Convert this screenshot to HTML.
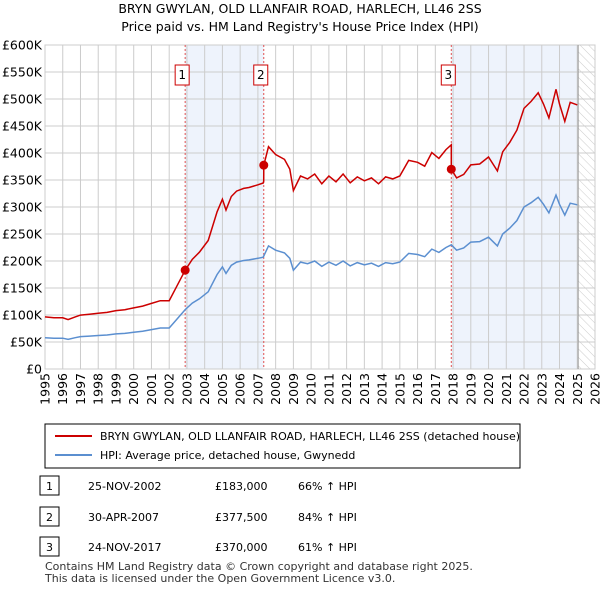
<!DOCTYPE html>
<html><head><meta charset="utf-8">
<style>
body{margin:0;background:#fff;font-family:"Liberation Sans",sans-serif;}
svg text{font-family:"DejaVu Sans","Liberation Sans",sans-serif;}
</style></head>
<body>
<svg id="c" width="600" height="590" xmlns="http://www.w3.org/2000/svg">
<defs>
<pattern id="hatch" width="6" height="6" patternUnits="userSpaceOnUse" patternTransform="rotate(-45)">
<line x1="0" y1="0" x2="0" y2="6" stroke="#ccc" stroke-width="1"/>
</pattern>
</defs>
<text x="300" y="13" text-anchor="middle" font-size="12.5">BRYN GWYLAN, OLD LLANFAIR ROAD, HARLECH, LL46 2SS</text>
<text x="300" y="31" text-anchor="middle" font-size="12.5">Price paid vs. HM Land Registry's House Price Index (HPI)</text>
<g id="plot"></g>
<rect x="45" y="424" width="475" height="44" fill="#fff" stroke="#000" stroke-width="1"/>
<line x1="55" y1="436" x2="92" y2="436" stroke="#cc0000" stroke-width="2"/>
<text x="100" y="440" font-size="11">BRYN GWYLAN, OLD LLANFAIR ROAD, HARLECH, LL46 2SS (detached house)</text>
<line x1="55" y1="455" x2="92" y2="455" stroke="#5b8fd0" stroke-width="2"/>
<text x="100" y="459" font-size="11">HPI: Average price, detached house, Gwynedd</text>
<g id="table" font-size="11"></g>
<text x="45" y="570" font-size="11" fill="#333">Contains HM Land Registry data © Crown copyright and database right 2025.</text>
<text x="45" y="582" font-size="11" fill="#333">This data is licensed under the Open Government Licence v3.0.</text>
</svg>
<script>
const hpiYears=[1995,1995.5,1996,1996.3,1996.7,1997,1997.5,1998,1998.5,1999,1999.5,2000,2000.5,2001,2001.5,2002,2002.4,2002.9,2003.3,2003.7,2004.2,2004.7,2005.0,2005.2,2005.5,2005.8,2006.2,2006.5,2007.0,2007.3,2007.6,2008.0,2008.5,2008.8,2009.0,2009.4,2009.8,2010.2,2010.6,2011.0,2011.4,2011.8,2012.2,2012.6,2013.0,2013.4,2013.8,2014.2,2014.6,2015.0,2015.5,2016.0,2016.4,2016.8,2017.2,2017.6,2017.9,2018.2,2018.6,2019.0,2019.5,2020.0,2020.5,2020.8,2021.2,2021.6,2022.0,2022.4,2022.8,2023.1,2023.4,2023.8,2024.0,2024.3,2024.6,2025.0];
const hpiValues=[58,57,57,55,58,60,61,62,63,65,66,68,70,73,76,76,91,110,122,130,143,175,189,177,192,198,201,202,205,207,228,220,215,205,183,198,195,200,190,198,192,200,191,197,193,196,190,197,195,198,214,212,208,222,216,225,230,220,224,235,236,244,228,250,261,275,300,308,318,305,289,322,305,285,307,304];
const saleYears=[2002.9,2007.33,2017.9];
const salePrices=[183000,377500,370000];
const saleDates=["25-NOV-2002","30-APR-2007","24-NOV-2017"];
const salePct=["66% ↑ HPI","84% ↑ HPI","61% ↑ HPI"];
const yTicks=[0,50,100,150,200,250,300,350,400,450,500,550,600];
const yLabels=["£0","£50K","£100K","£150K","£200K","£250K","£300K","£350K","£400K","£450K","£500K","£550K","£600K"];
const xTicks=[1995,1996,1997,1998,1999,2000,2001,2002,2003,2004,2005,2006,2007,2008,2009,2010,2011,2012,2013,2014,2015,2016,2017,2018,2019,2020,2021,2022,2023,2024,2025,2026];
const dataEnd=2025.05;

const NS="http://www.w3.org/2000/svg";
const X0=45,X1=595,Y0=369,Y1=45;
const xs=y=>X0+(y-1995)/(2026-1995)*(X1-X0);
const ys=v=>Y0-v/600*(Y0-Y1);
const plot=document.getElementById('plot');
function mk(tag,attrs,parent){const e=document.createElementNS(NS,tag);for(const k in attrs)e.setAttribute(k,attrs[k]);(parent||plot).appendChild(e);return e;}
function hpiAt(t){for(let i=0;i<hpiYears.length-1;i++){if(t<=hpiYears[i+1]){const f=(t-hpiYears[i])/(hpiYears[i+1]-hpiYears[i]);return hpiValues[i]+f*(hpiValues[i+1]-hpiValues[i]);}}return hpiValues[hpiValues.length-1];}
let r=mk('rect',{x:xs(saleYears[0]),y:Y1,width:xs(saleYears[1])-xs(saleYears[0]),height:Y0-Y1,fill:'#eef3fc'});


r=mk('rect',{x:xs(saleYears[2]),y:Y1,width:xs(dataEnd)-xs(saleYears[2]),height:Y0-Y1,fill:'#eef3fc'});


r=mk('rect',{x:xs(dataEnd),y:Y1,width:X1-xs(dataEnd),height:Y0-Y1,fill:'url(#hatch)'});


yTicks.forEach((v,i)=>{
 const l=mk('line',{x1:X0,x2:X1,y1:ys(v),y2:ys(v),stroke:'#ccc','stroke-width':1});
 
 
 const t=mk('text',{x:X0-3,y:ys(v)+4.5,'text-anchor':'end','font-size':12.5});
 t.textContent=yLabels[i];
 
 
});
xTicks.forEach(y=>{
 const l=mk('line',{x1:xs(y),x2:xs(y),y1:Y1,y2:Y0,stroke:'#ccc','stroke-width':1});
 
 
 const tx=xs(y)+4.5,ty=373;
 const t=mk('text',{x:tx,y:ty,'text-anchor':'end','font-size':12.5,transform:`rotate(-90 ${tx} ${ty})`});
 t.textContent=y;
 
 
});
const fr=mk('rect',{x:X0,y:Y1,width:X1-X0,height:Y0-Y1,fill:'none',stroke:'#ccc'});


const el=mk('line',{x1:xs(dataEnd),x2:xs(dataEnd),y1:Y1,y2:Y0,stroke:'#999','stroke-width':1});


saleYears.forEach((s,i)=>{
 const l=mk('line',{x1:xs(s),x2:xs(s),y1:Y1,y2:Y0,stroke:'#e05050','stroke-width':1,'stroke-dasharray':'2,2'});
 
 
 const b=mk('rect',{x:xs(s)-10,y:65,width:14,height:20,fill:'#fff',stroke:'#cc0000'});
 
 
 const t=mk('text',{x:xs(s)-3,y:79,'text-anchor':'middle','font-size':12});
 t.textContent=i+1;
 
 
});
let d='';hpiYears.forEach((y,i)=>{d+=(i?'L':'M')+xs(y).toFixed(1)+','+ys(hpiValues[i]).toFixed(1);});
const hp=mk('path',{d:d,fill:'none',stroke:'#5b8fd0','stroke-width':1.5});


const ratios=saleYears.map((s,i)=>salePrices[i]/1000/hpiAt(s));
function ratioAt(t){let k=0;for(let i=0;i<saleYears.length;i++)if(t>=saleYears[i])k=i;return ratios[k];}
const pts=[];
hpiYears.forEach((y,i)=>{pts.push([y,hpiValues[i]*ratioAt(y)]);});
saleYears.forEach((s,i)=>{if(i>0)pts.push([s-0.001,hpiAt(s)*ratios[i-1]]);pts.push([s,hpiAt(s)*ratios[i]]);});
pts.sort((a,b)=>a[0]-b[0]);
d='';pts.forEach((p,i)=>{d+=(i?'L':'M')+xs(p[0]).toFixed(1)+','+ys(p[1]).toFixed(1);});
const rp=mk('path',{d:d,fill:'none',stroke:'#cc0000','stroke-width':1.5});


saleYears.forEach((s,i)=>{
 const c=mk('circle',{cx:xs(s),cy:ys(salePrices[i]/1000),r:4.5,fill:'#cc0000'});
 
 
});
const tb=document.getElementById('table');
const rowY=[487,518,548];
saleDates.forEach((dt,i)=>{
 const y=rowY[i];
 const b=mk('rect',{x:40,y:y-11,width:19,height:19,fill:'#fff',stroke:'#000'},tb);
 
 
 const t0=mk('text',{x:49.5,y:y+3,'text-anchor':'middle'},tb);t0.textContent=i+1;
 
 
 const t1=mk('text',{x:88,y:y+3},tb);t1.textContent=dt;
 
 
 const t2=mk('text',{x:215,y:y+3},tb);t2.textContent='£'+salePrices[i].toLocaleString('en-GB');
 
 
 const t3=mk('text',{x:298,y:y+3},tb);t3.textContent=salePct[i];
 
 
});
</script>
</body></html>
